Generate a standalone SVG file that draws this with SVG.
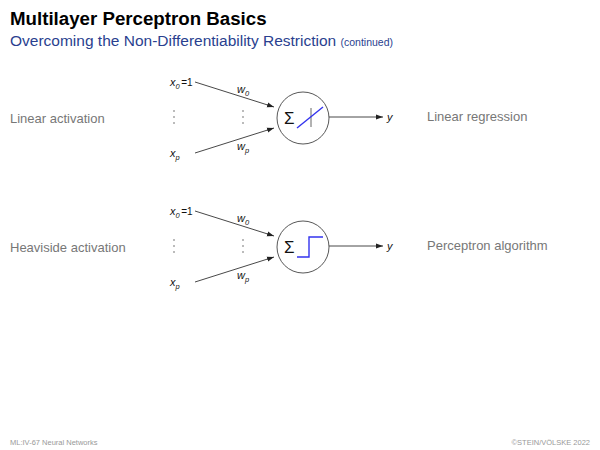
<svg xmlns="http://www.w3.org/2000/svg" width="600" height="450" viewBox="0 0 600 450">
<defs>
<marker id="ah" viewBox="0 0 10 10" refX="10" refY="5" markerWidth="7" markerHeight="7" markerUnits="userSpaceOnUse" orient="auto">
<path d="M0,1.5 L10,5 L0,8.5 z" fill="#222"/>
</marker>
<style>
text{font-family:"Liberation Sans",Arial,sans-serif}
.lab{font-size:13px;fill:#777}
.m{font-size:11px;font-style:italic;fill:#111}
.s{font-size:7.5px;font-style:italic;fill:#111}
.dot{fill:#444}
.edge{stroke:#333;stroke-width:0.9;fill:none}
.neu{fill:#fff;stroke:#444;stroke-width:0.9}
.act{stroke:#3333ee;stroke-width:1.4;fill:none}
.ft{font-size:7.5px;fill:#999}
</style>
</defs>
<rect width="600" height="450" fill="#fff"/>
<text x="10" y="25" font-size="18.7" font-weight="bold" fill="#000">Multilayer Perceptron Basics</text>
<text x="10" y="46" font-size="15.5" fill="#2a3f8f">Overcoming the Non-Differentiability Restriction <tspan font-size="10.5">(continued)</tspan></text>

<text class="lab" x="10" y="123">Linear activation</text>
<text class="lab" x="427" y="121">Linear regression</text>
<text class="lab" x="10" y="252">Heaviside activation</text>
<text class="lab" x="427" y="250">Perceptron algorithm</text>

<g id="connectors">
<line class="edge" x1="195" y1="82" x2="274" y2="107" marker-end="url(#ah)"/>
<line class="edge" x1="195" y1="153" x2="274" y2="128" marker-end="url(#ah)"/>
<line class="edge" x1="329" y1="117" x2="383" y2="117" marker-end="url(#ah)"/>
<line class="edge" x1="195" y1="211" x2="274" y2="236" marker-end="url(#ah)"/>
<line class="edge" x1="195" y1="282" x2="274" y2="257" marker-end="url(#ah)"/>
<line class="edge" x1="329" y1="246" x2="383" y2="246" marker-end="url(#ah)"/>
</g>

<g id="inputs1">
<text class="m" x="170" y="86">x<tspan class="s" dy="2.5">0</tspan><tspan dy="-2.5" dx="1.5" font-style="normal" font-size="10">=1</tspan></text>
<text class="m" x="170" y="157">x<tspan class="s" dy="2.5">p</tspan></text>
<text class="m" x="237" y="93">w<tspan class="s" dy="2.5">0</tspan></text>
<text class="m" x="237" y="150">w<tspan class="s" dy="2.5">p</tspan></text>
<circle class="dot" cx="174" cy="111" r="0.7"/><circle class="dot" cx="174" cy="117" r="0.7"/><circle class="dot" cx="174" cy="123" r="0.7"/>
<circle class="dot" cx="243" cy="111" r="0.7"/><circle class="dot" cx="243" cy="117" r="0.7"/><circle class="dot" cx="243" cy="123" r="0.7"/>
<text class="m" x="387" y="121">y</text>
</g>
<g id="neuron1">
<circle class="neu" cx="303" cy="118" r="26"/>
<text x="284" y="124" font-size="17" font-family="'Liberation Serif',serif" fill="#111">Σ</text>
<line x1="311" y1="108" x2="311" y2="127" stroke="#555" stroke-width="0.9"/>
<line class="act" x1="297" y1="128" x2="323" y2="107"/>
</g>

<g id="inputs2">
<text class="m" x="170" y="215">x<tspan class="s" dy="2.5">0</tspan><tspan dy="-2.5" dx="1.5" font-style="normal" font-size="10">=1</tspan></text>
<text class="m" x="170" y="286">x<tspan class="s" dy="2.5">p</tspan></text>
<text class="m" x="237" y="222">w<tspan class="s" dy="2.5">0</tspan></text>
<text class="m" x="237" y="279">w<tspan class="s" dy="2.5">p</tspan></text>
<circle class="dot" cx="174" cy="240" r="0.7"/><circle class="dot" cx="174" cy="246" r="0.7"/><circle class="dot" cx="174" cy="252" r="0.7"/>
<circle class="dot" cx="243" cy="240" r="0.7"/><circle class="dot" cx="243" cy="246" r="0.7"/><circle class="dot" cx="243" cy="252" r="0.7"/>
<text class="m" x="387" y="250">y</text>
</g>
<g id="neuron2">
<circle class="neu" cx="303" cy="247" r="26"/>
<text x="284" y="253" font-size="17" font-family="'Liberation Serif',serif" fill="#111">Σ</text>
<polyline class="act" points="297,257 309,257 309,237 323,237"/>
</g>

<text class="ft" x="10" y="445">ML:IV-67    Neural Networks</text>
<text class="ft" x="590" y="445" text-anchor="end">©STEIN/VÖLSKE 2022</text>
</svg>
